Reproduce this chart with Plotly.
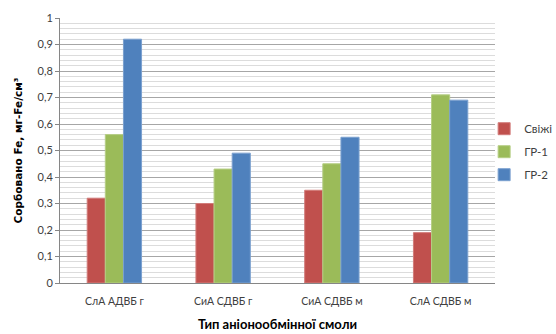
import plotly.graph_objects as go

categories = ["СлА АДВБ г", "СиА СДВБ г", "СиА СДВБ м", "СлА СДВБ м"]
fresh = [0.32, 0.30, 0.35, 0.19]
gr1 = [0.56, 0.43, 0.45, 0.71]
gr2 = [0.92, 0.49, 0.55, 0.69]
series_names = ["Свіжі", "ГР-1", "ГР-2"]
colors = ["#C0504D", "#9BBB59", "#4F81BD"]
edge_colors = ["#D27C7A", "#B6CE85", "#7BA0CF"]

fig = go.Figure()
for name, vals, col, edge in zip(series_names, [fresh, gr1, gr2], colors, edge_colors):
    fig.add_trace(go.Bar(
        x=categories, y=vals, name=name, legendgroup=name,
        marker=dict(color=col, line=dict(color=edge, width=1)),
    ))

font_family = "Lato, 'Open Sans', sans-serif"
fig.update_layout(
    width=556, height=334,
    margin=dict(l=60, r=61, t=18, b=51, autoexpand=False),
    paper_bgcolor="white", plot_bgcolor="white",
    separators=", ",
    barmode="group", bargap=0.5, bargroupgap=0,
    font=dict(family=font_family, size=11, color="#404040"),
    showlegend=True,
    legend=dict(
        x=0.975, y=0.637, xanchor="left", yanchor="top",
        font=dict(size=11.5, color="#404040"),
        itemwidth=30, traceorder="grouped", tracegroupgap=4,
        bgcolor="rgba(0,0,0,0)",
    ),
    xaxis=dict(
        showline=True, linecolor="#868686", linewidth=1,
        ticks="", tickfont=dict(size=10.5, color="#404040"),
        ticklabelstandoff=8,
        title=dict(text="<b>Тип аніонообмінної смоли</b>",
                   font=dict(size=13, color="#000000"), standoff=14),
    ),
    yaxis=dict(
        range=[0, 1], dtick=0.1, tick0=0,
        showline=True, linecolor="#868686", linewidth=1,
        ticks="outside", ticklen=4, tickcolor="#868686",
        showgrid=True, gridcolor="#A6A6A6", gridwidth=1,
        zeroline=False,
        minor=dict(dtick=0.02, showgrid=True, gridcolor="#DCDCDC", gridwidth=1),
        tickfont=dict(size=11, color="#404040"),
        title=dict(text="<b>Сорбовано Fe, мг-Fe/см³</b>",
                   font=dict(family="'DejaVu Sans', sans-serif", size=10.5, color="#000000"),
                   standoff=12),
    ),
)

fig.write_html("out.html")
